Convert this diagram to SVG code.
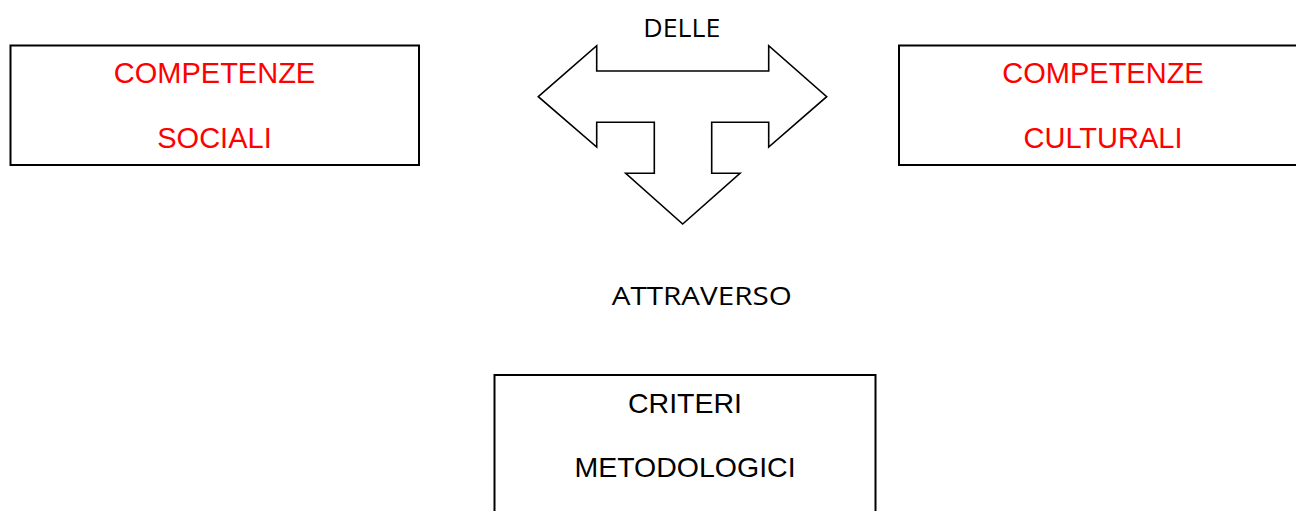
<svg xmlns="http://www.w3.org/2000/svg" width="1296" height="511" viewBox="0 0 1296 511">
<style>
.box{fill:#fff;stroke:#000;stroke-width:2}
.red{font-family:"Liberation Sans",Arial,sans-serif;font-size:29px;fill:#ff0000;text-anchor:middle}
.blk{font-family:"Liberation Sans",Arial,sans-serif;font-size:28.5px;fill:#000;text-anchor:middle}
.lbl{font-family:"Open Sans","Noto Sans",sans-serif;font-size:25px;fill:#000}
</style>
<rect width="1296" height="511" fill="#fff"/>
<g id="sociali">
<rect class="box" x="10.5" y="45.5" width="408.5" height="119.5"/>
<text class="red" x="214.5" y="83.3">COMPETENZE</text>
<text class="red" x="214.5" y="148.3">SOCIALI</text>
</g>
<g id="culturali">
<rect class="box" x="899" y="45.5" width="408.5" height="119.5"/>
<text class="red" x="1103" y="83.3">COMPETENZE</text>
<text class="red" x="1103" y="148.3">CULTURALI</text>
</g>
<g id="criteri">
<rect class="box" x="494.5" y="375" width="381" height="150"/>
<text class="blk" x="685" y="413.3">CRITERI</text>
<text class="blk" x="685" y="476.7">METODOLOGICI</text>
</g>
<g id="connectors">
<path d="M538.3,96.7 L596.7,45.7 L596.7,71 L768.7,71 L768.7,45.7 L826.7,96.7 L768.7,147 L768.7,122.3 L711.7,122.3 L711.7,173.3 L740,173.3 L682.7,224 L625.7,173.3 L654.3,173.3 L654.3,122.3 L596.7,122.3 L596.7,147 Z" fill="#fff" stroke="#000" stroke-width="1.6" stroke-linejoin="miter"/>
<text class="lbl" x="643.3" y="37.3" textLength="77" lengthAdjust="spacingAndGlyphs">DELLE</text>
<text class="lbl" x="611.7" y="305.3" textLength="180" lengthAdjust="spacingAndGlyphs">ATTRAVERSO</text>
</g>
</svg>
